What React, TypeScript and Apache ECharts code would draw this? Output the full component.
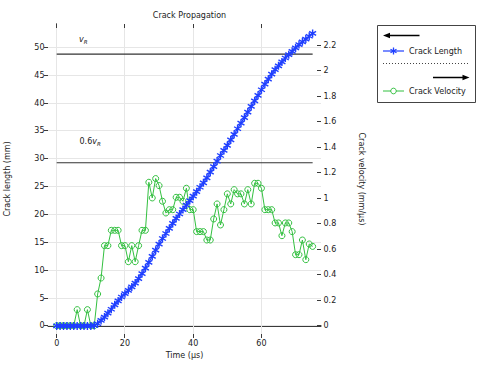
import React, { useEffect, useRef } from 'react';
import * as echarts from 'echarts';

const timeUs = [
  0, 1, 2, 3, 4, 5, 6, 7, 8, 9, 10, 11, 12, 13, 14, 15, 16, 17, 18, 19,
  20, 21, 22, 23, 24, 25, 26, 27, 28, 29, 30, 31, 32, 33, 34, 35, 36, 37, 38, 39,
  40, 41, 42, 43, 44, 45, 46, 47, 48, 49, 50, 51, 52, 53, 54, 55, 56, 57, 58, 59,
  60, 61, 62, 63, 64, 65, 66, 67, 68, 69, 70, 71, 72, 73, 74, 75,
];

const crackLength = [
  0, 0, 0, 0, 0, 0, 0, 0, 0, 0, 0, 0.1, 0.4, 1.0, 1.6, 2.3, 3.0, 3.8, 4.5, 5.2,
  5.8, 6.4, 7.0, 7.7, 8.5, 9.4, 10.4, 11.4, 12.5, 13.6, 14.7, 15.7, 16.6, 17.5, 18.4, 19.3, 20.1, 20.9, 21.7, 22.5,
  23.3, 24.1, 24.9, 25.7, 26.6, 27.6, 28.6, 29.6, 30.6, 31.5, 32.4, 33.4, 34.4, 35.4, 36.4, 37.4, 38.4, 39.4, 40.4, 41.4,
  42.4, 43.4, 44.3, 45.2, 46.0, 46.7, 47.4, 48.1, 48.7, 49.3, 49.9, 50.5, 51.0, 51.5, 52.0, 52.5,
];

const crackVelocity = [
  0, 0, 0, 0, 0, 0, 0.126, 0, 0, 0.126, 0, 0, 0.249, 0.374, 0.628, 0.628, 0.748, 0.748, 0.748, 0.628,
  0.628, 0.502, 0.628, 0.502, 0.628, 0.748, 0.748, 1.125, 1.002, 1.154, 1.099, 0.976, 0.884, 0.91, 0.91, 1.007, 1.007, 0.976, 1.078, 0.91,
  0.91, 0.738, 0.738, 0.738, 0.672, 0.672, 0.837, 0.955, 0.79, 0.91, 1.034, 0.955, 1.067, 1.034, 1.034, 0.955, 1.067, 0.955, 1.117, 1.117,
  1.078, 0.91, 0.91, 0.91, 0.806, 0.806, 0.706, 0.806, 0.806, 0.738, 0.557, 0.557, 0.672, 0.518, 0.641, 0.622,
];

const rayleighVelocity = 2.13;
const rayleighFraction = 0.6;

const xTicks = [0, 20, 40, 60];
const lengthTicks = [0, 5, 10, 15, 20, 25, 30, 35, 40, 45, 50];
const velocityTicks = [0, 0.2, 0.4, 0.6, 0.8, 1, 1.2, 1.4, 1.6, 1.8, 2, 2.2];

const BLUE = '#1f3fff';
const GREEN = '#33c040';
const AXIS = '#3a3a3a';
const GRID = '#e6e6e6';
const FONT = 'DejaVu Sans';
const TXT = '#222';
const TICK = 4;

const STAR = 'path://M0,-5L0,5M-4.33,-2.5L4.33,2.5M-4.33,2.5L4.33,-2.5';

const crisp = (v: number) => Math.round(v - 0.5) + 0.5;

const seg = (x1: number, y1: number, x2: number, y2: number, color: string) => ({
  type: 'line',
  shape: { x1, y1, x2, y2 },
  style: { stroke: color, lineWidth: 1 },
  silent: true,
});

function tickSeries(kind: 'x' | 'yl' | 'yr', values: number[]) {
  return {
    type: 'custom',
    coordinateSystem: 'cartesian2d',
    xAxisIndex: 0,
    yAxisIndex: kind === 'yr' ? 1 : 0,
    silent: true,
    clip: false,
    z: 1,
    data: values.map((v) => (kind === 'x' ? [v, 0] : [0, v])),
    renderItem: (params: any, api: any) => {
      const cs = params.coordSys;
      const left = cs.x;
      const right = cs.x + cs.width;
      const top = cs.y;
      const bottom = cs.y + cs.height;
      const children: any[] = [];
      if (kind === 'x') {
        const px = crisp(api.coord([api.value(0), 0])[0]);
        children.push(seg(px, top, px, bottom, GRID));
        children.push(seg(px, bottom, px, bottom + TICK, AXIS));
        children.push(seg(px, top, px, top + TICK, AXIS));
      } else if (kind === 'yl') {
        const py = crisp(api.coord([0, api.value(1)])[1]);
        children.push(seg(left, py, right, py, GRID));
        children.push(seg(left - TICK, py, left, py, AXIS));
      } else {
        const py = crisp(api.coord([0, api.value(1)])[1]);
        children.push(seg(right - TICK, py, right, py, AXIS));
      }
      return { type: 'group', children };
    },
  };
}

export default function App() {
  const ref = useRef<HTMLDivElement>(null);
  useEffect(() => {
    if (!ref.current) return;
    const chart = echarts.init(ref.current, null, { renderer: 'svg' });
    const tStart = timeUs[0];
    const tEnd = timeUs[timeUs.length - 1];
    const axisLineStyle = { color: AXIS, width: 1 };
    const labelStyle = { fontFamily: FONT, fontSize: 8, color: TXT };

    const option: any = {
      animation: false,
      textStyle: { fontFamily: FONT, fontSize: 8 },
      title: {
        text: 'Crack Propagation',
        left: 184.5,
        top: 6,
        textAlign: 'center',
        textStyle: { fontFamily: FONT, fontSize: 8, fontWeight: 'normal', color: TXT },
      },
      grid: { left: 48, top: 24, right: 164, bottom: 31, containLabel: false, outerBoundsMode: 'none' },
      xAxis: [
        {
          type: 'value',
          min: -2.55,
          max: 77.45,
          position: 'bottom',
          name: 'Time (µs)',
          nameLocation: 'middle',
          nameGap: 12,
          nameTextStyle: labelStyle,
          axisLine: { show: true, lineStyle: axisLineStyle },
          axisTick: { show: false },
          axisLabel: { ...labelStyle, customValues: xTicks, margin: 5 },
          splitLine: { show: false },
        },
        {
          type: 'value',
          min: -2.55,
          max: 77.45,
          position: 'top',
          axisLine: { show: true, lineStyle: axisLineStyle },
          axisTick: { show: false },
          axisLabel: { show: false },
          splitLine: { show: false },
        },
      ],
      yAxis: [
        {
          type: 'value',
          min: -1.44,
          max: 54.2,
          position: 'left',
          name: 'Crack length (mm)',
          nameLocation: 'middle',
          nameGap: 36.5,
          nameTextStyle: labelStyle,
          axisLine: { show: true, lineStyle: axisLineStyle },
          axisTick: { show: false },
          axisLabel: { ...labelStyle, customValues: lengthTicks, margin: 3.5 },
          splitLine: { show: false },
        },
        {
          type: 'value',
          min: -0.065,
          max: 2.366,
          position: 'right',
          name: 'Crack velocity (mm/µs)',
          nameLocation: 'middle',
          nameRotate: -90,
          nameGap: 36,
          nameTextStyle: labelStyle,
          axisLine: { show: true, lineStyle: axisLineStyle },
          axisTick: { show: false },
          axisLabel: { ...labelStyle, customValues: velocityTicks, margin: 2.5 },
          splitLine: { show: false },
        },
      ],
      series: [
        tickSeries('x', xTicks),
        tickSeries('yl', lengthTicks),
        tickSeries('yr', velocityTicks),
        {
          name: 'vR',
          type: 'line',
          xAxisIndex: 0,
          yAxisIndex: 1,
          data: [[tStart, rayleighVelocity], [tEnd, rayleighVelocity]],
          symbol: 'none',
          silent: true,
          lineStyle: { color: '#333', width: 1.1 },
          z: 2,
        },
        {
          name: '0.6vR',
          type: 'line',
          xAxisIndex: 0,
          yAxisIndex: 1,
          data: [[tStart, rayleighFraction * rayleighVelocity], [tEnd, rayleighFraction * rayleighVelocity]],
          symbol: 'none',
          silent: true,
          lineStyle: { color: '#333', width: 1.1 },
          z: 2,
        },
        {
          name: 'Crack Velocity',
          type: 'line',
          xAxisIndex: 0,
          yAxisIndex: 1,
          data: timeUs.map((t, i) => [t, crackVelocity[i]]),
          symbol: 'circle',
          symbolSize: 6,
          showAllSymbol: true,
          lineStyle: { color: GREEN, width: 1 },
          itemStyle: { color: 'rgba(0,0,0,0)', borderColor: GREEN, borderWidth: 1 },
          z: 3,
        },
        {
          name: 'Crack Length',
          type: 'line',
          xAxisIndex: 0,
          yAxisIndex: 0,
          data: timeUs.map((t, i) => [t, crackLength[i]]),
          symbol: STAR,
          symbolSize: 8,
          symbolKeepAspect: true,
          showAllSymbol: true,
          lineStyle: { color: BLUE, width: 1.2 },
          itemStyle: { color: BLUE, borderColor: BLUE, borderWidth: 1.4 },
          z: 4,
        },
      ],
      graphic: [
        {
          type: 'text',
          x: 79,
          y: 39,
          style: {
            text: '{i|v}{s|R}',
            verticalAlign: 'middle',
            align: 'left',
            rich: {
              i: { fontFamily: FONT, fontSize: 8, fontStyle: 'italic', fill: TXT, lineHeight: 10 },
              s: { fontFamily: FONT, fontSize: 5.5, fontStyle: 'italic', fill: TXT, lineHeight: 10, padding: [5, 0, 0, 0] },
            },
          },
        },
        {
          type: 'text',
          x: 79.5,
          y: 141,
          style: {
            text: '{n|0.6}{i|v}{s|R}',
            verticalAlign: 'middle',
            align: 'left',
            rich: {
              n: { fontFamily: FONT, fontSize: 8, fill: TXT, lineHeight: 10 },
              i: { fontFamily: FONT, fontSize: 8, fontStyle: 'italic', fill: TXT, lineHeight: 10 },
              s: { fontFamily: FONT, fontSize: 5.5, fontStyle: 'italic', fill: TXT, lineHeight: 10, padding: [5, 0, 0, 0] },
            },
          },
        },
        {
          type: 'rect',
          shape: { x: 377.5, y: 25.5, width: 98, height: 77 },
          style: { fill: '#fff', stroke: '#444', lineWidth: 1 },
        },
        {
          type: 'line',
          shape: { x1: 387, y1: 35.5, x2: 419.5, y2: 35.5 },
          style: { stroke: '#000', lineWidth: 1.3 },
        },
        {
          type: 'polygon',
          shape: { points: [[383, 35.5], [390, 32.8], [390, 38.2]] },
          style: { fill: '#000' },
        },
        {
          type: 'line',
          shape: { x1: 383, y1: 51, x2: 404, y2: 51 },
          style: { stroke: BLUE, lineWidth: 1.2 },
        },
        { type: 'line', shape: { x1: 393.5, y1: 47.5, x2: 393.5, y2: 54.5 }, style: { stroke: BLUE, lineWidth: 1.3 } },
        { type: 'line', shape: { x1: 390.5, y1: 49.2, x2: 396.5, y2: 52.8 }, style: { stroke: BLUE, lineWidth: 1.3 } },
        { type: 'line', shape: { x1: 390.5, y1: 52.8, x2: 396.5, y2: 49.2 }, style: { stroke: BLUE, lineWidth: 1.3 } },
        {
          type: 'text',
          x: 409,
          y: 51,
          style: { text: 'Crack Length', fontFamily: FONT, fontSize: 8, fill: TXT, verticalAlign: 'middle', align: 'left' },
        },
        {
          type: 'line',
          shape: { x1: 383, y1: 63.5, x2: 469, y2: 63.5 },
          style: { stroke: '#444', lineWidth: 1, lineDash: [1, 2] },
        },
        {
          type: 'line',
          shape: { x1: 433, y1: 77.5, x2: 465.5, y2: 77.5 },
          style: { stroke: '#000', lineWidth: 1.3 },
        },
        {
          type: 'polygon',
          shape: { points: [[469.5, 77.5], [462.5, 74.8], [462.5, 80.2]] },
          style: { fill: '#000' },
        },
        {
          type: 'line',
          shape: { x1: 383, y1: 91, x2: 404, y2: 91 },
          style: { stroke: GREEN, lineWidth: 1 },
        },
        {
          type: 'circle',
          shape: { cx: 393.5, cy: 91, r: 2.8 },
          style: { fill: '#fff', stroke: GREEN, lineWidth: 1 },
        },
        {
          type: 'text',
          x: 409,
          y: 91,
          style: { text: 'Crack Velocity', fontFamily: FONT, fontSize: 8, fill: TXT, verticalAlign: 'middle', align: 'left' },
        },
      ],
    };
    chart.setOption(option);
    return () => chart.dispose();
  }, []);
  return <div ref={ref} style={{ position: 'absolute', left: 0, top: 0, width: 485, height: 365 }} />;
}
